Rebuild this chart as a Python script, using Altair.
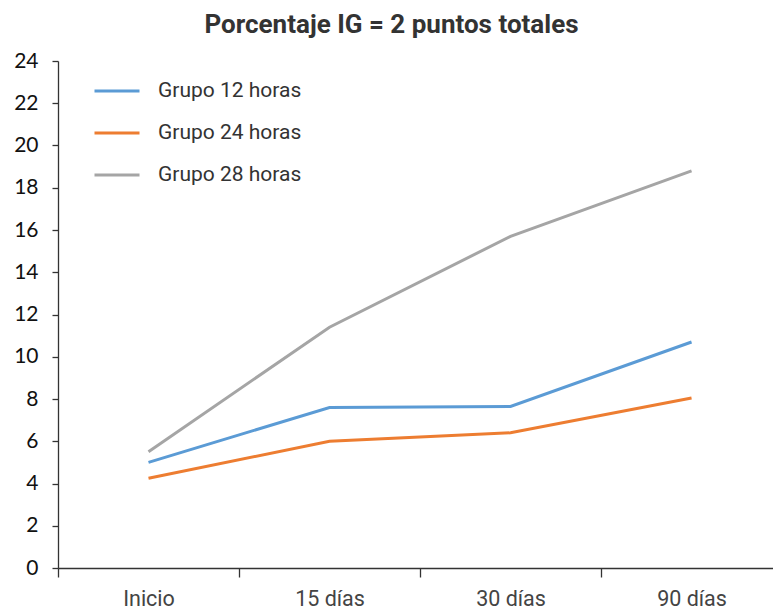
import altair as alt
import pandas as pd

categories = ["Inicio", "15 días", "30 días", "90 días"]
series = ["Grupo 12 horas", "Grupo 24 horas", "Grupo 28 horas"]
g12 = [5.0, 7.6, 7.65, 10.7]
g24 = [4.25, 6.0, 6.4, 8.05]
g28 = [5.5, 11.4, 15.7, 18.8]
colors = ["#5B9BD5", "#ED7D31", "#A5A5A5"]
y_ticks = list(range(0, 25, 2))

rows = []
for name, vals in zip(series, [g12, g24, g28]):
    for i, (c, v) in enumerate(zip(categories, vals)):
        rows.append({"serie": name, "idx": i, "cat": c, "valor": v})
df = pd.DataFrame(rows)

label_expr = " : ".join(
    f"datum.value == {i} ? '{c}'" for i, c in enumerate(categories)
) + " : ''"
tick_vals = []
for i in range(len(categories)):
    tick_vals += [i - 0.5, i]

chart = (
    alt.Chart(df)
    .mark_line(strokeWidth=3)
    .encode(
        x=alt.X(
            "idx:Q",
            scale=alt.Scale(domain=[-0.5, 3.45], nice=False, zero=False),
            axis=alt.Axis(
                title=None,
                values=tick_vals,
                labelExpr=label_expr,
                labelOverlap=False,
                labelFlush=False,
                labelBound=False,
                grid=False,
                tickSize=9,
                tickWidth=1.3,
                tickColor="#333333",
                tickOpacity={"condition": {"test": "datum.value % 1 == 0", "value": 0}, "value": 1},
                domainColor="#333333",
                domainWidth=1.3,
                labelFont="Roboto",
                labelFontSize=21.5,
                labelColor="#444444",
                labelPadding=11,
            ),
        ),
        y=alt.Y(
            "valor:Q",
            scale=alt.Scale(domain=[0, 24], nice=False),
            axis=alt.Axis(
                title=None,
                values=y_ticks,
                grid=False,
                tickSize=6,
                tickWidth=1.3,
                tickColor="#333333",
                domainColor="#333333",
                domainWidth=1.3,
                labelFont="Lato",
                labelFontSize=21,
                labelColor="#111111",
                labelPadding=14,
            ),
        ),
        color=alt.Color(
            "serie:N",
            scale=alt.Scale(domain=series, range=colors),
            legend=alt.Legend(
                title=None,
                orient="none",
                legendX=35,
                legendY=6,
                symbolType="stroke",
                symbolSize=2025,
                symbolStrokeWidth=3,
                rowPadding=8,
                labelFont="Roboto",
                labelFontSize=21,
                labelColor="#333333",
                labelOffset=17,
            ),
        ),
        detail="serie:N",
    )
    .properties(
        width=715,
        height=507,
        padding={"left": 58, "top": 61, "right": 0, "bottom": 41},
        autosize=alt.AutoSizeParams(type="none"),
        title=alt.TitleParams(
            "Porcentaje IG = 2 puntos totales",
            font="Roboto",
            fontSize=26,
            fontWeight="bold",
            color="#333333",
            anchor="middle",
            dx=-24,
            offset=12,
        ),
    )
    .configure_view(stroke=None)
)

chart.save("out.html", embed_options={"renderer": "svg", "actions": False})
